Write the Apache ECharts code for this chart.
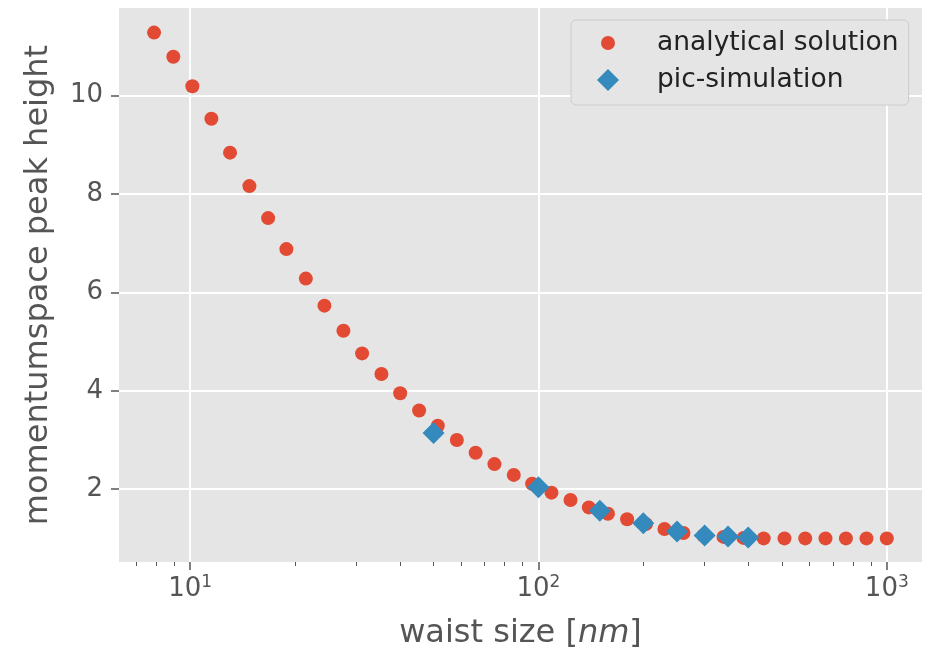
<!DOCTYPE html>
<html lang="en">
<head>
    <meta charset="UTF-8">
    <script src="https://cdn.jsdelivr.net/npm/echarts@6/dist/echarts.min.js"></script>
    <title>momentumspace peak height</title>
</head>
<body style="margin:0;background:#fff">

<div id="chart" style="width: 925px;height: 650px"></div>

<script type="text/javascript">
    // analytical solution
    var analyticX = [7.88, 8.95, 10.15, 11.51, 13.02, 14.80, 16.75, 18.90, 21.49, 24.30,
        27.55, 31.17, 35.42, 40.09, 45.44, 51.42, 58.31, 66.02, 74.76, 84.95,
        95.9, 109.0, 123.6, 139.5, 158.3, 179.7, 203.5, 230.0, 260.8, 297.7,
        339.8, 387.8, 443.2, 508.5, 583.2, 666.8, 763.2, 874.3, 1000]
    var analyticY = [11.28, 10.79, 10.19, 9.53, 8.84, 8.16, 7.51, 6.88, 6.28, 5.73,
        5.22, 4.76, 4.34, 3.95, 3.60, 3.29, 3.00, 2.74, 2.51, 2.29,
        2.11, 1.93, 1.78, 1.63, 1.50, 1.39, 1.29, 1.19, 1.11, 1.06,
        1.03, 1.01, 1.0, 1.0, 1.0, 1.0, 1.0, 1.0, 1.0]

    // pic-simulation
    var simX = [50, 100, 150, 200, 250, 300, 350, 400]
    var simY = [3.14, 2.04, 1.56, 1.31, 1.14, 1.06, 1.04, 1.02]

    // ticks
    var xMajorTicks = [10, 100, 1000]
    var xMinorTicks = [7, 8, 9, 20, 30, 40, 50, 60, 70, 80, 90, 200, 300, 400, 500, 600, 700, 800, 900]
    var yTicks = [2, 4, 6, 8, 10]

    var xRange = [6.25, 1262]
    var yRange = [0.52, 11.78]

    function zip(a, b) {
        var out = []
        for (var i = 0; i < a.length; i++) out.push([a[i], b[i]])
        return out
    }

    var font = 'DejaVu Sans'
    var myChart = echarts.init(document.getElementById('chart'))

    // legend text, pushed right a bit like matplotlib's handletextpad
    function legendText(gap) {
        return {
            fontFamily: font, fontSize: 26.5, color: '#222', lineHeight: 30,
            rich: {g: {width: gap}}
        }
    }
    function legendLabel(name) {
        return '{g| }' + name
    }

    var option = {
        animation: false,
        textStyle: {fontFamily: font},
        grid: {
            left: 119, right: 3, top: 8, bottom: 88,
            show: true,
            backgroundColor: '#e5e5e5',
            borderWidth: 0,
            outerBoundsMode: 'none'
        },
        legend: [
            {
                orient: 'vertical',
                left: 571, top: 20,
                padding: [8, 10, 47, 30],
                itemWidth: 14, itemHeight: 14,
                backgroundColor: '#e5e5e5',
                borderColor: '#cccccc', borderWidth: 1, borderRadius: 5,
                data: [{name: 'analytical solution', icon: 'circle'}],
                formatter: legendLabel,
                textStyle: legendText(37)
            },
            {
                orient: 'vertical',
                left: 597, top: 65,
                padding: 0,
                itemWidth: 22, itemHeight: 22,
                data: [{name: 'pic-simulation', icon: 'diamond'}],
                formatter: legendLabel,
                textStyle: legendText(33)
            }
        ],
        xAxis: [
            {
                type: 'log', logBase: 10,
                min: xRange[0], max: xRange[1],
                name: '{a|waist size [}{i|nm}{a|]}',
                nameLocation: 'middle', nameGap: 56,
                nameTextStyle: {
                    rich: {
                        a: {fontFamily: font, fontSize: 32, color: '#555'},
                        i: {fontFamily: font, fontSize: 32, color: '#555', fontStyle: 'italic'}
                    }
                },
                axisLine: {show: false},
                axisTick: {show: true, customValues: xMajorTicks, length: 8, lineStyle: {color: '#555', width: 1.5}},
                axisLabel: {
                    customValues: xMajorTicks,
                    margin: 12,
                    formatter: function (v) {
                        return '{b|10}{s|' + Math.round(Math.log10(v)) + '}'
                    },
                    rich: {
                        b: {fontFamily: font, fontSize: 26, color: '#555', lineHeight: 30},
                        s: {fontFamily: font, fontSize: 17, color: '#555', verticalAlign: 'top', lineHeight: 20}
                    }
                },
                splitLine: {show: true, lineStyle: {color: '#ffffff', width: 2}}
            },
            {
                type: 'log', logBase: 10,
                position: 'bottom',
                min: xRange[0], max: xRange[1],
                axisLine: {show: false},
                axisTick: {show: true, customValues: xMinorTicks, length: 4, lineStyle: {color: '#555', width: 1}},
                axisLabel: {show: false},
                splitLine: {show: false}
            }
        ],
        yAxis: {
            type: 'value',
            min: yRange[0], max: yRange[1],
            name: 'momentumspace peak height',
            nameLocation: 'middle', nameGap: 64,
            nameTextStyle: {fontFamily: font, fontSize: 32, color: '#555'},
            axisLine: {show: false},
            axisTick: {show: true, customValues: yTicks, length: 8, lineStyle: {color: '#555', width: 1.5}},
            axisLabel: {customValues: yTicks, margin: 16, fontFamily: font, fontSize: 26, color: '#555'},
            splitLine: {show: true, lineStyle: {color: '#ffffff', width: 2}}
        },
        series: [
            {
                name: 'analytical solution',
                type: 'scatter',
                symbol: 'circle',
                symbolSize: 14,
                itemStyle: {color: '#E24A33', opacity: 1},
                data: zip(analyticX, analyticY),
                z: 2
            },
            {
                name: 'pic-simulation',
                type: 'scatter',
                symbol: 'diamond',
                symbolSize: 22,
                itemStyle: {color: '#348ABD', opacity: 1},
                data: zip(simX, simY),
                z: 3
            }
        ]
    }

    myChart.setOption(option)
</script>
</body>
</html>
